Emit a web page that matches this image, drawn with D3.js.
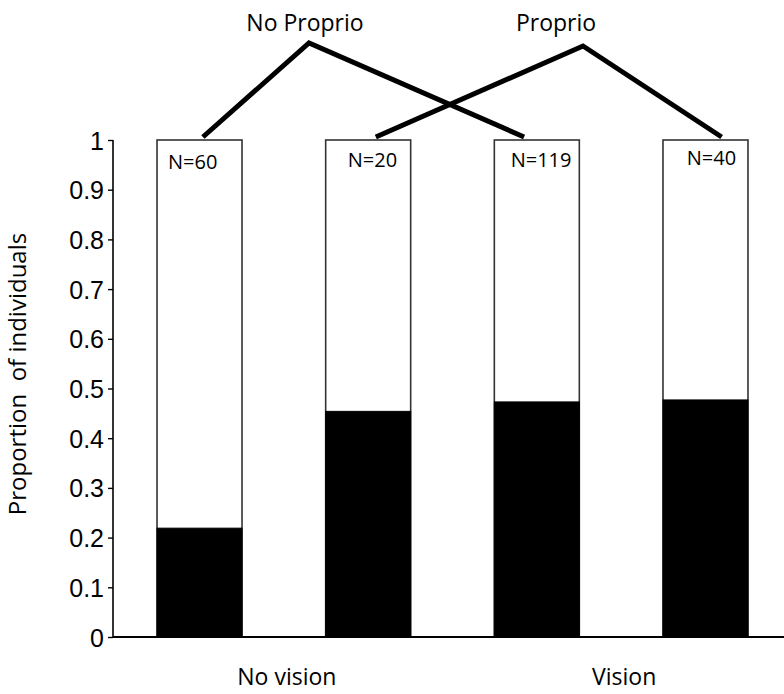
<!DOCTYPE html>
<html>
<head>
<meta charset="utf-8">
<script src="https://cdn.jsdelivr.net/npm/d3@7"></script>
<style>
  html, body { margin: 0; padding: 0; background: #fff; }
  svg { display: block; }
</style>
</head>
<body>
<svg id="chart" width="784" height="694"></svg>
<script>
// ---- data ----
const categories = ["NoVision-NoProprio", "NoVision-Proprio", "Vision-NoProprio", "Vision-Proprio"];
const blackValues = [0.219, 0.454, 0.473, 0.477];
const nLabels = ["N=60", "N=20", "N=119", "N=40"];
const yTicks = [0, 0.1, 0.2, 0.3, 0.4, 0.5, 0.6, 0.7, 0.8, 0.9, 1];
const groupLabels = ["No vision", "Vision"];
const groupMembers = [[0, 1], [2, 3]];
const treeLabels = ["No Proprio", "Proprio"];
const treeMembers = [[0, 2], [1, 3]];
const yTitle = "Proportion  of individuals";

// ---- layout ----
const W = 784, H = 694;
const axisX = 113, yTop = 140, yBot = 637;
const txtFont = "'Open Sans', 'Noto Sans', sans-serif";
const svg = d3.select("#chart");

const x = d3.scaleBand().domain(categories).range([axisX, 792])
  .paddingInner(0.496).paddingOuter(0.261);
const y = d3.scaleLinear().domain([0, 1]).range([yBot, yTop]);
const bw = x.bandwidth();

// bars: white full box, black portion
const bars = svg.append("g");
bars.selectAll("rect.full").data(categories).join("rect")
  .attr("x", d => x(d)).attr("y", y(1))
  .attr("width", bw).attr("height", y(0) - y(1))
  .attr("fill", "#fff").attr("stroke", "#333").attr("stroke-width", 1.6);
bars.selectAll("rect.black").data(categories).join("rect")
  .attr("x", d => x(d)).attr("y", (d, i) => y(blackValues[i]))
  .attr("width", bw).attr("height", (d, i) => y(0) - y(blackValues[i]))
  .attr("fill", "#000").attr("stroke", "#000").attr("stroke-width", 1);

// y axis
const yAxis = d3.axisLeft(y).tickValues(yTicks)
  .tickFormat(d => d === 0 || d === 1 ? d3.format("d")(d) : d3.format(".1f")(d))
  .tickSize(5).tickPadding(4);
const ga = svg.append("g").attr("transform", `translate(${axisX},0)`).call(yAxis);
ga.select(".domain").attr("d", `M0,${yTop}V${yBot}`).attr("stroke", "#000").attr("stroke-width", 1.6);
ga.selectAll(".tick line").attr("stroke", "#000").attr("stroke-width", 1.4);
ga.selectAll(".tick text")
  .attr("font-family", "'Liberation Sans', Arial, sans-serif")
  .attr("font-size", 25).attr("fill", "#000").attr("dy", "0.36em");

// x baseline
svg.append("line").attr("x1", axisX).attr("x2", W).attr("y1", y(0)).attr("y2", y(0))
  .attr("stroke", "#000").attr("stroke-width", 1.8);

// y title
svg.append("text")
  .attr("transform", `translate(26,374) rotate(-90)`)
  .attr("text-anchor", "middle")
  .attr("font-family", txtFont)
  .attr("font-size", 24).attr("fill", "#000")
  .style("white-space", "pre")
  .text(yTitle);

// N labels
svg.selectAll("text.n").data(categories).join("text")
  .attr("x", (d, i) => x(d) + bw * [0.42, 0.55, 0.55, 0.57][i])
  .attr("y", (d, i) => y(1) + [29, 27, 27, 25][i])
  .attr("text-anchor", "middle")
  .attr("font-family", txtFont)
  .attr("font-size", 20).attr("fill", "#000")
  .text((d, i) => nLabels[i]);

// group labels under axis
svg.selectAll("text.g").data(groupLabels).join("text")
  .attr("x", (d, i) => (x(categories[groupMembers[i][0]]) + x(categories[groupMembers[i][1]]) + bw) / 2 + 3)
  .attr("y", 685)
  .attr("text-anchor", "middle")
  .attr("font-family", txtFont)
  .attr("font-size", 23).attr("fill", "#000")
  .text(d => d);

// tree connectors
const apex = [{ x: 309, y: 43 }, { x: 583, y: 46 }];
const endFrac = [[0.54, 0.35], [0.59, 0.69]];
const endY = y(1) - 3;
treeMembers.forEach((m, i) => {
  const p = d3.path();
  p.moveTo(x(categories[m[0]]) + bw * endFrac[i][0], endY);
  p.lineTo(apex[i].x, apex[i].y);
  p.lineTo(x(categories[m[1]]) + bw * endFrac[i][1], endY);
  svg.append("path").attr("d", p.toString())
    .attr("fill", "none").attr("stroke", "#000").attr("stroke-width", 5)
    .attr("stroke-linejoin", "miter");
  svg.append("text")
    .attr("x", apex[i].x - 4 - (i === 1 ? 23 : 0)).attr("y", 31)
    .attr("text-anchor", "middle")
    .attr("font-family", txtFont)
    .attr("font-size", 23).attr("fill", "#000")
    .text(treeLabels[i]);
});
</script>
</body>
</html>
